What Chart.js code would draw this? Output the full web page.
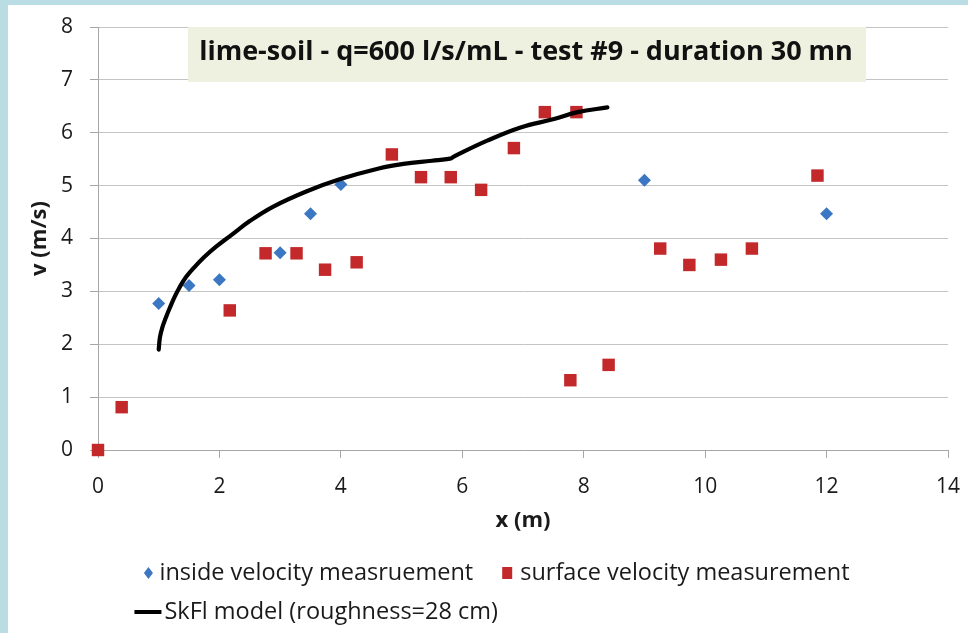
<!DOCTYPE html>
<html>
<head>
<meta charset="utf-8">
<title>lime-soil test #9</title>
<script src="https://cdn.jsdelivr.net/npm/chart.js@4/dist/chart.umd.min.js"></script>
<style>
  html, body { margin: 0; padding: 0; background: #b9dde3; overflow: hidden; }
  #frame { position: absolute; left: 8px; top: 5px; width: 960px; height: 628px; background: #fff; }
  canvas { display: block; }
</style>
</head>
<body>
<div id="frame"><canvas id="velocityChart" width="960" height="628"></canvas></div>
<script>
'use strict'

const chartTitle = 'lime-soil - q=600 l/s/mL - test #9 - duration 30 mn';
const legendLabels = ['inside velocity measruement', 'surface velocity measurement', 'SkFl model (roughness=28 cm)'];

// inside velocity (blue diamonds)
const insideX = [1, 1.5, 2, 3, 3.5, 4, 9, 12];
const insideV = [2.77, 3.11, 3.22, 3.73, 4.47, 5.02, 5.1, 4.47];

// surface velocity (red squares)
const surfaceX = [0, 0.39, 2.17, 2.76, 3.27, 3.74, 4.26, 4.84, 5.32, 5.81, 6.31, 6.85, 7.36, 7.88, 7.78, 8.41, 9.26, 9.74, 10.26, 10.77, 11.85];
const surfaceV = [0, 0.81, 2.64, 3.72, 3.72, 3.41, 3.55, 5.59, 5.16, 5.16, 4.92, 5.71, 6.39, 6.39, 1.32, 1.61, 3.81, 3.5, 3.6, 3.81, 5.19];

// SkFl model curve
const modelX = [1.0, 1.02, 1.06, 1.12, 1.18, 1.26, 1.34, 1.45, 1.59, 1.75, 1.95, 2.19, 2.5, 2.88, 3.43, 3.98, 4.64, 5.03, 5.5, 5.8, 5.86, 6.41, 6.96, 7.51, 7.9, 8.39];
const modelV = [1.9, 2.13, 2.32, 2.51, 2.68, 2.89, 3.07, 3.27, 3.46, 3.65, 3.85, 4.06, 4.33, 4.6, 4.89, 5.12, 5.33, 5.41, 5.47, 5.51, 5.55, 5.85, 6.10, 6.26, 6.39, 6.48];

const xTicks = [0, 2, 4, 6, 8, 10, 12, 14];
const yTicks = [0, 1, 2, 3, 4, 5, 6, 7, 8];

const blue = '#3b77c2';
const red = '#c3282b';
const gridGrey = '#c4c4c4';
const axisGrey = '#a6a6a6';
const fontFamily = '"Open Sans", "Liberation Sans", sans-serif';

const toPoints = (xs, ys) => xs.map((x, i) => ({ x: x, y: ys[i] }));

// title box floating inside the plot area
const titleBox = {
    id: 'titleBox',
    beforeDatasetsDraw(chart) {
        const ctx = chart.ctx;
        ctx.save();
        ctx.fillStyle = '#eef1e0';
        ctx.fillRect(180, 22, 678, 55);
        ctx.fillStyle = '#111';
        ctx.font = 'bold 27px ' + fontFamily;
        ctx.textAlign = 'center';
        ctx.textBaseline = 'middle';
        ctx.fillText(chartTitle, 518, 47);
        ctx.restore();
    }
};

// two-row legend under the x axis
const bottomLegend = {
    id: 'bottomLegend',
    afterDraw(chart) {
        const ctx = chart.ctx;
        ctx.save();
        ctx.font = '23.5px ' + fontFamily;
        ctx.textBaseline = 'middle';
        const w1 = ctx.measureText(legendLabels[0]).width;
        const w2 = ctx.measureText(legendLabels[1]).width;
        const rowW = 11 + w1 + 34 + 13 + w2;
        let x = 491 - rowW / 2;
        const y1 = 568, y2 = 607;

        ctx.fillStyle = blue;
        ctx.beginPath();
        ctx.moveTo(x, y1 - 6);
        ctx.lineTo(x + 4.5, y1);
        ctx.lineTo(x, y1 + 6);
        ctx.lineTo(x - 4.5, y1);
        ctx.closePath();
        ctx.fill();
        ctx.fillStyle = '#1a1a1a';
        ctx.fillText(legendLabels[0], x + 11, y1);

        const rowStart = x;
        x += 11 + w1 + 34;
        ctx.fillStyle = red;
        ctx.fillRect(x - 5, y1 - 6, 10, 12);
        ctx.fillStyle = '#1a1a1a';
        ctx.fillText(legendLabels[1], x + 13, y1);

        const lx = rowStart - 14;
        ctx.strokeStyle = '#000';
        ctx.lineWidth = 4;
        ctx.beginPath();
        ctx.moveTo(lx, y2);
        ctx.lineTo(lx + 27, y2);
        ctx.stroke();
        ctx.fillText(legendLabels[2], lx + 30, y2);
        ctx.restore();
    }
};

new Chart(document.getElementById('velocityChart'), {
    type: 'scatter',
    data: {
        datasets: [{
            label: legendLabels[0],
            data: toPoints(insideX, insideV),
            pointStyle: 'rectRot',
            pointRadius: 6.5,
            pointBackgroundColor: blue,
            pointBorderWidth: 0,
            clip: false,
            order: 1
        }, {
            label: legendLabels[1],
            data: toPoints(surfaceX, surfaceV),
            pointStyle: 'rect',
            pointRadius: 8.8,
            pointBackgroundColor: red,
            pointBorderWidth: 0,
            clip: false,
            order: 2
        }, {
            label: legendLabels[2],
            data: toPoints(modelX, modelV),
            showLine: true,
            borderColor: '#000',
            borderWidth: 4.2,
            borderCapStyle: 'round',
            borderJoinStyle: 'round',
            pointRadius: 0,
            tension: 0.4,
            clip: false,
            order: 0
        }]
    },
    options: {
        responsive: false,
        animation: false,
        layout: { padding: { top: 22, right: 20, bottom: 98, left: 0 } },
        plugins: {
            legend: { display: false },
            tooltip: { enabled: false }
        },
        scales: {
            x: {
                type: 'linear',
                min: 0,
                max: 14,
                afterBuildTicks: scale => { scale.ticks = xTicks.map(v => ({ value: v })); },
                afterFit: scale => {
                    scale.height = 85;
                    scale.paddingLeft = 0;
                    scale.paddingRight = 0;
                },
                grid: { drawOnChartArea: false, drawTicks: true, tickLength: 8, color: axisGrey },
                border: { color: axisGrey, width: 1 },
                ticks: { padding: 16, color: '#1a1a1a', font: { family: fontFamily, size: 21 } },
                title: {
                    display: true,
                    text: 'x (m)',
                    color: '#1a1a1a',
                    padding: { top: 0, bottom: 1 },
                    font: { family: fontFamily, size: 22, weight: 'bold' }
                }
            },
            y: {
                type: 'linear',
                min: 0,
                max: 8,
                afterBuildTicks: scale => { scale.ticks = yTicks.map(v => ({ value: v })); },
                afterFit: scale => {
                    scale.width = 90;
                    scale.paddingTop = 0;
                    scale.paddingBottom = 0;
                },
                grid: { color: gridGrey, tickColor: axisGrey, tickLength: 8 },
                border: { color: axisGrey, width: 1 },
                ticks: { padding: 17, color: '#1a1a1a', font: { family: fontFamily, size: 21 } },
                title: {
                    display: true,
                    text: 'v (m/s)',
                    color: '#1a1a1a',
                    padding: { top: 19, bottom: 0 },
                    font: { family: fontFamily, size: 22, weight: 'bold' }
                }
            }
        }
    },
    plugins: [titleBox, bottomLegend]
});
</script>
</body>
</html>
